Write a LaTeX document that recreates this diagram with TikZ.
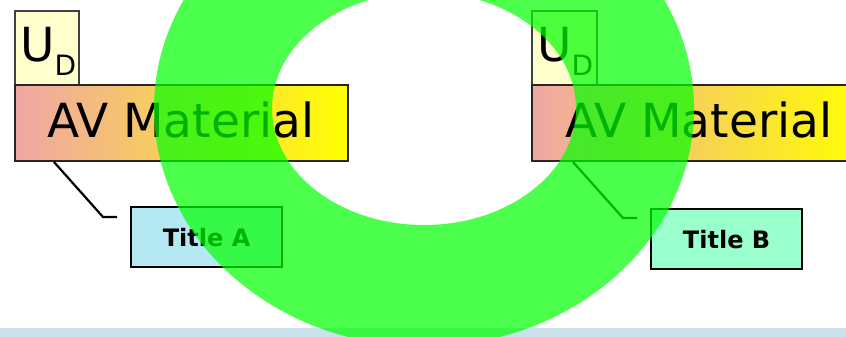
\documentclass[tikz,border=0pt]{standalone}
\usepackage{fontspec}
\setmainfont{DejaVu Sans}
\definecolor{udfill}{RGB}{255,255,206}
\definecolor{pinkl}{RGB}{240,166,166}
\definecolor{yell}{RGB}{255,255,0}
\definecolor{tafill}{RGB}{180,232,242}
\definecolor{tbfill}{RGB}{153,255,204}
\definecolor{ringg}{RGB}{0,255,0}
\definecolor{stripc}{RGB}{203,225,236}
\tikzset{
  udbox/.style={draw=black!75, line width=1.2pt, fill=udfill},
  avbox/.style={draw=black!85, line width=1.6pt, left color=pinkl, right color=yell},
  titlebox/.style={draw=black, line width=2.2pt},
  conn/.style={draw=black, line width=2.2pt},
  avtext/.style={font=\fontsize{47}{50}\selectfont, inner sep=0pt, anchor=base west},
  udtext/.style={font=\fontsize{47}{50}\selectfont, inner sep=0pt, anchor=base west},
  ttext/.style={font=\bfseries\fontsize{24}{26}\selectfont, inner sep=0pt},
}
\begin{document}
\begin{tikzpicture}[x=1pt,y=-1pt]
\useasboundingbox (0,0) rectangle (846,337);
\clip (0,0) rectangle (846,337);
% bottom strip
\fill[stripc] (0,328) rectangle (846,337);
% left group
\path[udbox] (15,11) rectangle (79,85);
\node[udtext] (udA) at (20,62) {U\raisebox{-0.28em}{\fontsize{28}{30}\selectfont D}};
\path[avbox] (15,85) rectangle (348,161);
\node[avtext] (avA) at (47,137) {AV Material};
\coordinate (cA1) at (54,162);
\coordinate (cA2) at (103,217);
\coordinate (cA3) at (117,217);
\draw[conn] (cA1) -- (cA2) -- (cA3);
\node[titlebox, fill=tafill, minimum width=151pt, minimum height=60pt, anchor=north west] (tA) at (130,206) {};
\node[ttext] at (tA.center) {Title A};
% right group
\path[udbox] (532,11) rectangle (597,85);
\node[udtext] (udB) at (537,62) {U\raisebox{-0.28em}{\fontsize{28}{30}\selectfont D}};
\path[avbox] (532,85) rectangle (865,161);
\node[avtext] (avB) at (565,137) {AV Material};
\coordinate (cB1) at (573,162);
\coordinate (cB2) at (623,218);
\coordinate (cB3) at (637,218);
\draw[conn] (cB1) -- (cB2) -- (cB3);
\node[titlebox, fill=tbfill, minimum width=151pt, minimum height=60pt, anchor=north west] (tB) at (650,208) {};
\node[ttext] at (tB.center) {Title B};
% ring overlay
\fill[ringg, fill opacity=0.7, even odd rule] (424,108.5) ellipse [x radius=270, y radius=238] (424,108.5) ellipse [x radius=152, y radius=116.5];
\end{tikzpicture}
\end{document}
